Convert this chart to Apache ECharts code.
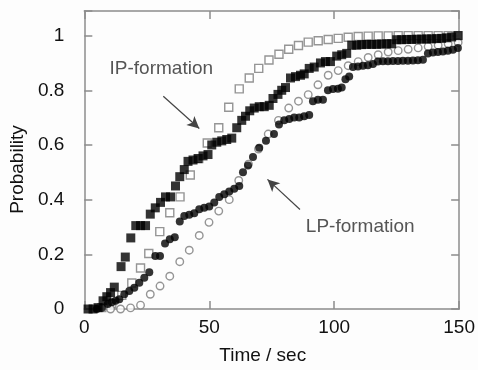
<!DOCTYPE html>
<html>
<head>
<meta charset="utf-8">
<script src="https://cdn.jsdelivr.net/npm/echarts@6/dist/echarts.min.js"></script>
<style>
  html, body { margin: 0; padding: 0; background: #fdfdfd; }
  #chart { width: 478px; height: 370px; }
</style>
</head>
<body>
<div id="chart"></div>
<script>
// IP-formation, measured (filled squares)
const ipTime = [1.5, 3.5, 5.5, 7.5, 9, 10.5, 12, 14.7, 16.4, 18.6, 20.6, 22.5, 24.5, 26.4, 28.4, 30.5,
  32.5, 34.5, 36.5, 38.2, 40, 41.5, 43.5, 45.5, 47.5, 49.5, 51, 53, 55, 57, 59, 61, 63, 64.5, 66.2,
  68, 70, 72, 74, 75.5, 77.5, 79, 80.5, 82.5, 84.5, 86.5, 88, 90, 92, 94.5, 96.5, 98.5, 101, 103, 105,
  107, 109, 111, 113, 115, 117, 119, 121, 123, 125, 127, 129, 131, 133, 135, 137, 139, 141, 143, 145,
  147, 149.5];
const ipProb = [0, 0, 0.005, 0.03, 0.045, 0.06, 0.08, 0.155, 0.19, 0.26, 0.305, 0.305, 0.305, 0.347, 0.37, 0.39,
  0.41, 0.41, 0.45, 0.484, 0.51, 0.54, 0.545, 0.55, 0.56, 0.565, 0.6, 0.61, 0.615, 0.62, 0.625, 0.663, 0.69, 0.705, 0.725,
  0.735, 0.74, 0.74, 0.745, 0.77, 0.785, 0.8, 0.81, 0.845, 0.85, 0.855, 0.86, 0.88, 0.885, 0.9, 0.905, 0.905, 0.925, 0.93, 0.935,
  0.965, 0.965, 0.967, 0.968, 0.968, 0.968, 0.969, 0.97, 0.97, 0.985, 0.985, 0.986, 0.986, 0.987, 0.987, 0.988,
  0.988, 0.989, 0.99, 0.992, 0.995, 1.0];

// IP-formation, fitted (open squares)
const ipFitTime = [7, 11, 15, 19, 22.5, 25.8, 30.2, 34.2, 38.3, 42.4, 45.8, 49.2, 53.8, 57.8, 62, 66, 69.8,
  73.9, 77.9, 81.8, 85.7, 89.6, 93.6, 97.6, 101.6, 105.6, 109.6, 113.6, 117.6, 121.6, 125.6, 129.6, 133.6,
  137.6, 141.6, 145.6, 149.6];
const ipFitProb = [0.005, 0.02, 0.05, 0.095, 0.15, 0.203, 0.283, 0.352, 0.41, 0.49, 0.55, 0.607, 0.663, 0.738, 0.805, 0.845, 0.88,
  0.911, 0.932, 0.95, 0.964, 0.976, 0.981, 0.986, 0.99, 0.994, 0.997, 0.998, 0.999, 0.999, 1, 1, 1,
  1, 1, 1, 1];

// LP-formation, measured (filled circles)
const lpTime = [5, 7, 9.4, 11, 12.5, 14, 16, 18, 20, 22, 24, 26, 28.4, 30.3, 32.3, 34.2, 36.2, 38.2, 40, 42,
  44, 46, 48, 50, 52, 54, 56, 58, 60, 62, 63.5, 65.5, 67.5, 70, 72.7, 75.9, 77.9, 80, 82, 84, 86, 88, 90,
  91.5, 93.5, 95.5, 97.5, 99.5, 101.5, 103, 104.5, 106, 107.5, 109.5, 111.5, 113.5, 115.5, 117.5, 119.5,
  121.5, 123.5, 125.5, 127.5, 129.5, 131.5, 133.5, 135.5, 137.5, 139.5, 141.5, 143.5, 145.5, 147.5, 149.5];
const lpProb = [0, 0.005, 0.018, 0.025, 0.03, 0.036, 0.054, 0.066, 0.078, 0.096, 0.114, 0.134, 0.194, 0.194, 0.24, 0.255, 0.262, 0.32, 0.34, 0.345,
  0.35, 0.365, 0.37, 0.375, 0.39, 0.41, 0.42, 0.43, 0.44, 0.45, 0.5, 0.525, 0.556, 0.59, 0.615, 0.64, 0.675, 0.69, 0.695, 0.7, 0.7, 0.705, 0.71,
  0.76, 0.765, 0.765, 0.8, 0.805, 0.806, 0.81, 0.84, 0.85, 0.885, 0.887, 0.89, 0.892, 0.896, 0.905, 0.906,
  0.906, 0.907, 0.907, 0.908, 0.908, 0.909, 0.91, 0.912, 0.935, 0.938, 0.94, 0.942, 0.945, 0.948, 0.955];

// LP-formation, fitted (open circles)
const lpFitTime = [10.5, 14.5, 18.5, 22.5, 26.4, 30.3, 34.2, 38.2, 42, 46, 49.9, 53.8, 58, 61.8, 65.7, 69.7,
  73.6, 77.7, 81.8, 85.7, 89.6, 93.5, 97.6, 101.6, 105.6, 109.6, 113.6, 117.6, 121.6, 125.6, 129.6, 133.6,
  137.6, 141.6, 145.6, 149.6];
const lpFitProb = [0, 0, 0.004, 0.014, 0.054, 0.084, 0.12, 0.173, 0.215, 0.269, 0.317, 0.358, 0.4, 0.47, 0.53, 0.585,
  0.64, 0.69, 0.735, 0.76, 0.784, 0.82, 0.855, 0.872, 0.89, 0.905, 0.92, 0.93, 0.94, 0.945, 0.95, 0.955,
  0.96, 0.965, 0.97, 0.975];

const xTicks = [0, 50, 100, 150];
const yTicks = [0, 0.2, 0.4, 0.6, 0.8, 1];

const zip = (xs, ys) => xs.map((x, i) => [x, ys[i]]);

const chart = echarts.init(document.getElementById('chart'), null, { renderer: 'canvas' });

const frameColor = '#8c8c8c';
const labelColor = '#111';
const font = 'Liberation Sans, Arial, sans-serif';

const baseAxis = {
  type: 'value',
  splitLine: { show: false },
  axisLine: { show: true, onZero: false, lineStyle: { color: frameColor, width: 1.5 } },
  axisTick: { show: true, inside: true, length: 8, lineStyle: { color: frameColor, width: 1.5 } },
};

chart.setOption({
  backgroundColor: '#fdfdfd',
  animation: false,
  textStyle: { fontFamily: font },
  grid: { left: 84, right: 10, top: 11, bottom: 55 },
  xAxis: [
    {
      ...baseAxis,
      min: xTicks[0], max: xTicks[xTicks.length - 1], interval: 50,
      position: 'bottom',
      axisLabel: { fontSize: 19, color: labelColor, margin: 9 },
      name: 'Time / sec',
      nameLocation: 'middle',
      nameGap: 37,
      nameTextStyle: { fontSize: 19, color: labelColor, padding: [0, 18, 0, 0] },
    },
    {
      ...baseAxis,
      min: xTicks[0], max: xTicks[xTicks.length - 1], interval: 50,
      position: 'top',
      axisLabel: { show: false },
    },
  ],
  yAxis: [
    {
      ...baseAxis,
      min: yTicks[0], max: 1.09, interval: 0.2,
      position: 'left',
      axisLabel: {
        fontSize: 19, color: labelColor, margin: 20,
        formatter: (v) => (yTicks.some((t) => Math.abs(t - v) < 1e-6) ? String(+v.toFixed(1)) : ''),
      },
      name: 'Probability',
      nameLocation: 'middle',
      nameGap: 51,
      nameTextStyle: { fontSize: 19, color: labelColor, padding: [0, 19, 0, 0] },
    },
    {
      ...baseAxis,
      min: yTicks[0], max: 1.09, interval: 0.2,
      position: 'right',
      axisLabel: { show: false },
    },
  ],
  series: [
    {
      name: 'IP fit',
      type: 'scatter',
      data: zip(ipFitTime, ipFitProb),
      symbol: 'rect',
      symbolSize: 8,
      itemStyle: { color: '#fff', borderColor: '#7a7a7a', borderWidth: 1.4 },
      z: 2,
      markLine: {
        silent: true,
        symbol: ['none', 'arrow'],
        symbolSize: [9, 12],
        label: { show: false },
        lineStyle: { color: '#444', width: 1.2, type: 'solid' },
        data: [
          [{ coord: [31.6, 0.778] }, { coord: [46, 0.66] }],
          [{ coord: [86.3, 0.364] }, { coord: [73.3, 0.474] }],
        ],
      },
      markPoint: {
        silent: true,
        symbol: 'rect',
        symbolSize: 1,
        itemStyle: { color: 'rgba(0,0,0,0)' },
        label: { show: true, position: 'inside', fontSize: 19, color: '#555', fontFamily: font },
        data: [
          { coord: [30.8, 0.878], label: { formatter: 'IP-formation' } },
          { coord: [110.4, 0.302], label: { formatter: 'LP-formation' } },
        ],
      },
    },
    {
      name: 'LP fit',
      type: 'scatter',
      data: zip(lpFitTime, lpFitProb),
      symbol: 'circle',
      symbolSize: 7.5,
      itemStyle: { color: '#fff', borderColor: '#7a7a7a', borderWidth: 1.4 },
      z: 2,
    },
    {
      name: 'IP measured',
      type: 'scatter',
      data: zip(ipTime, ipProb),
      symbol: 'rect',
      symbolSize: 9,
      itemStyle: { color: '#000' },
      z: 3,
    },
    {
      name: 'LP measured',
      type: 'scatter',
      data: zip(lpTime, lpProb),
      symbol: 'circle',
      symbolSize: 8,
      itemStyle: { color: '#000' },
      z: 3,
    },
  ],
});

window.addEventListener('resize', () => chart.resize());
</script>
</body>
</html>
